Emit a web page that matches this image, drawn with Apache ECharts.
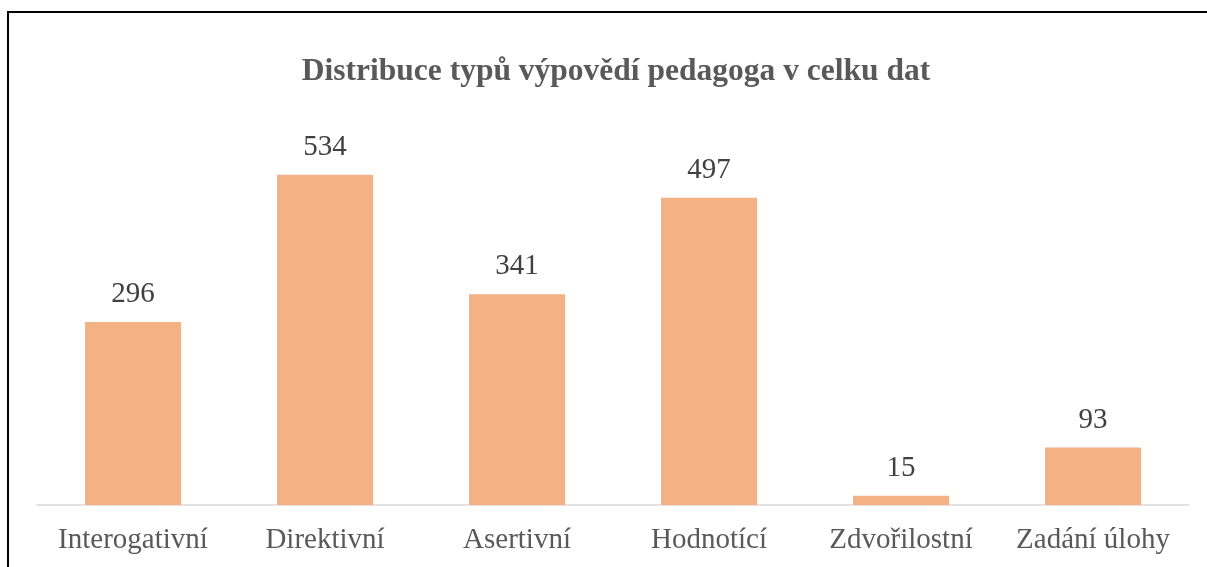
<!DOCTYPE html>
<html>
<head>
<meta charset="utf-8">
<script src="https://cdn.jsdelivr.net/npm/echarts@6/dist/echarts.min.js"></script>
<style>
html,body{margin:0;padding:0;background:#fff;}
#chart{width:1207px;height:567px;}
</style>
</head>
<body>
<div id="chart"></div>
<script>
const categories = ['Interogativní', 'Direktivní', 'Asertivní', 'Hodnotící', 'Zdvořilostní', 'Zadání úlohy'];
const values = [296, 534, 341, 497, 15, 93];
const titleText = 'Distribuce typů výpovědí pedagoga v celku dat';

const chart = echarts.init(document.getElementById('chart'));
chart.setOption({
  animation: false,
  backgroundColor: '#fff',
  title: {
    text: titleText,
    left: 611,
    textAlign: 'center',
    top: 51,
    textStyle: {
      fontFamily: 'Liberation Serif',
      fontWeight: 'bold',
      fontSize: 31.5,
      color: '#595959'
    }
  },
  graphic: [{
    type: 'rect',
    shape: { x: 8, y: 12, width: 1400, height: 800 },
    style: { fill: 'none', stroke: '#000', lineWidth: 2 },
    silent: true
  }],
  grid: { left: 37, right: 18, top: 134, bottom: 62 },
  xAxis: {
    type: 'category',
    data: categories,
    axisTick: { show: false },
    axisLine: { lineStyle: { color: '#d9d9d9', width: 1.5 } },
    axisLabel: {
      interval: 0,
      hideOverlap: false,
      fontFamily: 'Liberation Serif',
      fontSize: 29,
      color: '#595959',
      margin: 21
    }
  },
  yAxis: {
    type: 'value',
    min: 0,
    max: 600,
    show: false,
    splitLine: { show: false }
  },
  series: [{
    type: 'bar',
    data: values,
    barWidth: '50%',
    itemStyle: { color: '#F4B183' },
    label: {
      show: true,
      position: 'top',
      distance: 13,
      fontFamily: 'Liberation Serif',
      fontSize: 29,
      color: '#404040'
    }
  }]
});
</script>
</body>
</html>
